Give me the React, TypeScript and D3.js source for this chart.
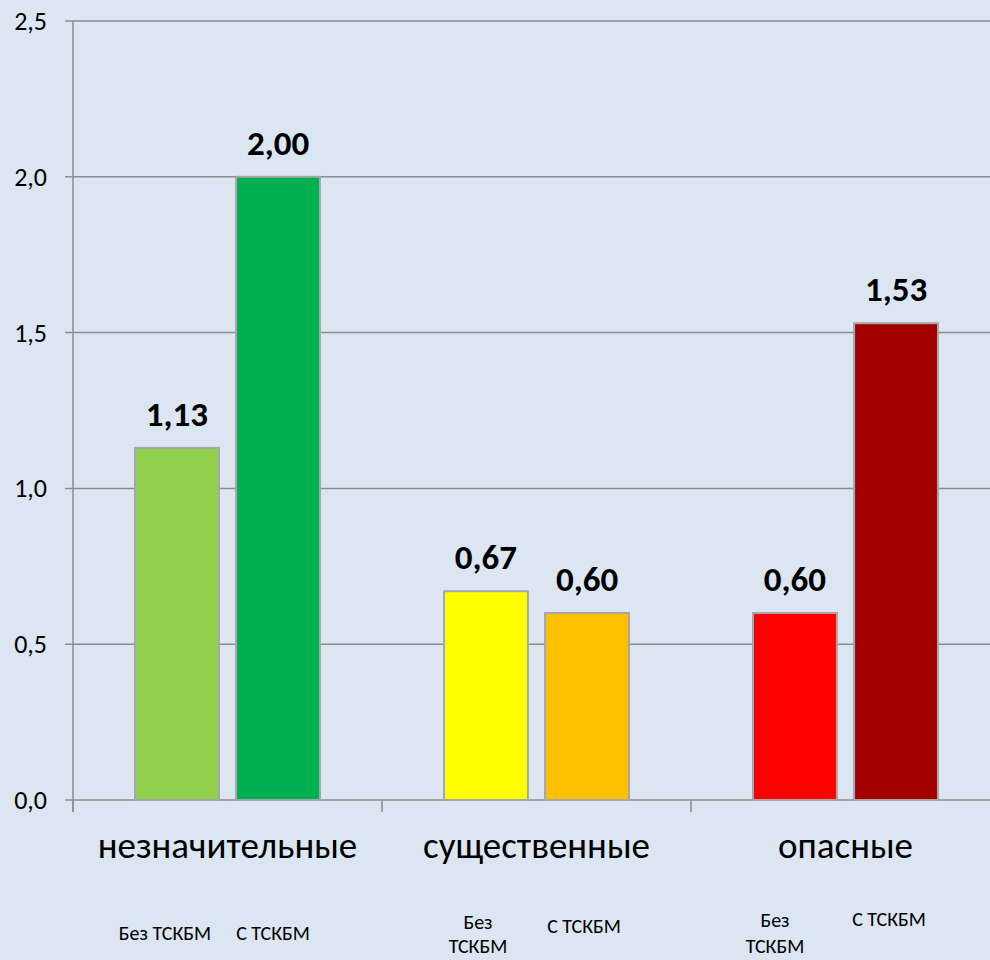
import * as d3 from "d3";

// categories and series
const categories = ["незначительные", "существенные", "опасные"];
const seriesKeys = ["без", "с"];
const values = [
  [1.13, 2.0],
  [0.67, 0.6],
  [0.6, 1.53],
];
const barColors = [
  ["#92d050", "#00b050"],
  ["#ffff00", "#ffc000"],
  ["#ff0000", "#a50000"],
];
const yTicks = [0, 0.5, 1.0, 1.5, 2.0, 2.5];
// sub labels under each bar (lines)
const subLabels = [
  [["Без ТСКБМ"], ["С ТСКБМ"]],
  [["Без", "ТСКБМ"], ["С ТСКБМ"]],
  [["Без", "ТСКБМ"], ["С ТСКБМ"]],
];
// placement of the sub labels (baseline, x shift from bar centre, line step)
const subLabelY = [
  [940, 940],
  [929, 933],
  [927, 926],
];
const subLabelDx = [
  [-12, -5],
  [-8, -3],
  [-20, -7],
];
const subLineStep = [26, 24, 26];

const W = 990;
const H = 960;
const left = 73;
const right = 1000;
const top = 21;
const bottom = 800;
const font = "Calibri, Carlito, 'Noto Sans', sans-serif";

const fmt = (v: number, d: number) => v.toFixed(d).replace(".", ",");

export default function App() {
  const y = d3.scaleLinear().domain([0, 2.5]).range([bottom, top]);
  const x = d3.scaleBand().domain(categories).range([left, right]).paddingInner(0).paddingOuter(0);
  const xs = d3
    .scaleBand()
    .domain(seriesKeys)
    .range([0, x.bandwidth()])
    .paddingInner(0.17)
    .paddingOuter(0.614);

  return (
    <svg
      width={W}
      height={H}
      style={{ position: "absolute", left: 0, top: 0, background: "#dce6f2", fontFamily: font }}
    >
      <rect x={0} y={0} width={W} height={H} fill="#dce6f2" />
      {/* grid */}
      {yTicks.map((t) => (
        <g key={t}>
          <line x1={left - 8} x2={right} y1={y(t)} y2={y(t)} stroke="#8c8c8c" strokeWidth={1.5} />
          <text x={47} y={y(t) + 9} textAnchor="end" fontSize={26} fill="#000">
            {fmt(t, 1)}
          </text>
        </g>
      ))}
      <line x1={left} x2={left} y1={top} y2={bottom + 12} stroke="#8c8c8c" strokeWidth={1.5} />
      {categories.map((c) => (
        <line
          key={c}
          x1={x(c)!}
          x2={x(c)!}
          y1={bottom}
          y2={bottom + 12}
          stroke="#8c8c8c"
          strokeWidth={1.5}
        />
      ))}
      {/* bars */}
      {categories.map((c, i) => (
        <g key={c} transform={`translate(${x(c)},0)`}>
          {seriesKeys.map((s, j) => {
            const v = values[i][j];
            const bx = xs(s)!;
            const bw = xs.bandwidth();
            return (
              <g key={s}>
                <rect
                  x={bx}
                  y={y(v)}
                  width={bw}
                  height={bottom - y(v)}
                  fill={barColors[i][j]}
                  stroke="#a6a6a6"
                  strokeWidth={2}
                />
                <text
                  x={bx + bw / 2}
                  y={y(v) - 22}
                  textAnchor="middle"
                  fontSize={35}
                  fontWeight="bold"
                  fill="#000"
                >
                  {fmt(v, 2)}
                </text>
                {subLabels[i][j].map((line, k) => (
                  <text
                    key={k}
                    x={bx + bw / 2 + subLabelDx[i][j]}
                    y={subLabelY[i][j] + k * subLineStep[i]}
                    textAnchor="middle"
                    fontSize={20}
                    fill="#000"
                  >
                    {line}
                  </text>
                ))}
              </g>
            );
          })}
          <text x={x.bandwidth() / 2} y={858} textAnchor="middle" fontSize={37} fill="#000">
            {c}
          </text>
        </g>
      ))}
    </svg>
  );
}
